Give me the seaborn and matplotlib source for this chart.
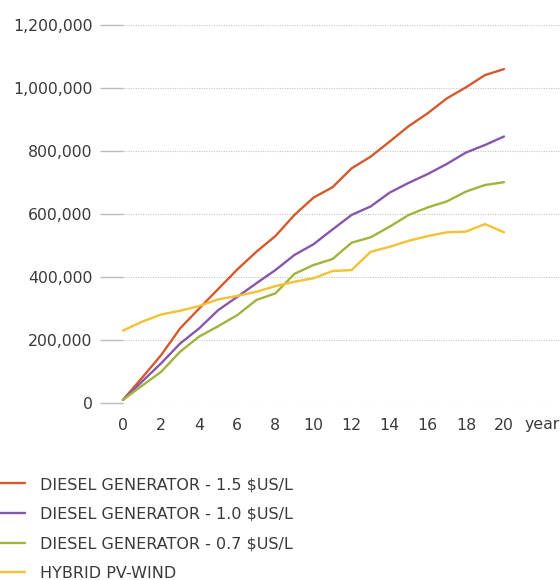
import matplotlib
matplotlib.use("Agg")
import matplotlib.pyplot as plt
import matplotlib.ticker as mticker
import seaborn as sns
import pandas as pd

# Cumulative cost by year for each power option
years = list(range(0, 21))
diesel_15 = [10000, 80000, 152000, 237000, 300000, 362000, 424000, 480000, 530000, 597000,
             652000, 685000, 745000, 782000, 830000, 879000, 920000, 967000, 1002000, 1041000, 1060000]
diesel_10 = [10000, 68000, 126000, 189000, 237000, 295000, 337000, 380000, 422000, 470000,
             504000, 551000, 597000, 624000, 668000, 699000, 727000, 759000, 795000, 819000, 846000]
diesel_07 = [10000, 55000, 99000, 163000, 211000, 244000, 279000, 327000, 348000, 410000,
             438000, 457000, 509000, 526000, 560000, 597000, 621000, 640000, 671000, 692000, 701000]
hybrid = [230000, 258000, 281000, 293000, 308000, 329000, 340000, 353000, 371000, 385000,
          396000, 419000, 422000, 480000, 496000, 515000, 530000, 542000, 544000, 568000, 542000]

series_names = ["DIESEL GENERATOR - 1.5 $US/L", "DIESEL GENERATOR - 1.0 $US/L",
                "DIESEL GENERATOR - 0.7 $US/L", "HYBRID PV-WIND"]
series_values = [diesel_15, diesel_10, diesel_07, hybrid]
series_colors = ["#d35a2c", "#8757ae", "#a3b23c", "#f3c132"]

y_ticks = [0, 200000, 400000, 600000, 800000, 1000000, 1200000]
x_ticks = list(range(0, 21, 2))

df = pd.concat(
    [pd.DataFrame({"year": years, "cost": vals, "series": name})
     for name, vals in zip(series_names, series_values)],
    ignore_index=True,
)

sns.set_theme(style="white")
plt.rcParams["font.family"] = ["DejaVu Sans"]
text_color = "#3a3a3a"

fig = plt.figure(figsize=(5.6, 5.8), dpi=100)
ax = fig.add_axes([123 / 560, 177 / 580, 437 / 560, 378 / 580])

sns.lineplot(data=df, x="year", y="cost", hue="series", hue_order=series_names,
             palette=series_colors, linewidth=1.7, ax=ax, legend=True)
for line in ax.lines:
    line.set_clip_on(False)

ax.set_xlim(0, 22.94)
ax.set_ylim(0, 1200000)
ax.set_xticks(x_ticks)
ax.set_yticks(y_ticks)
ax.yaxis.set_major_formatter(mticker.FuncFormatter(lambda v, p: f"{int(v):,}"))
ax.set_xlabel("")
ax.set_ylabel("")

for s in ax.spines.values():
    s.set_visible(False)

ax.grid(axis="y", color="#c4c4c4", linestyle=(0, (1.0, 1.2)), linewidth=0.8)
ax.grid(axis="x", visible=False)
ax.set_axisbelow(True)

ax.tick_params(axis="y", length=16.5, width=1.0, color="#bbbbbb", pad=5.5,
               labelsize=11.3, labelcolor=text_color, left=True)
ax.tick_params(axis="x", length=0, pad=10.5, labelsize=11.3, labelcolor=text_color)

fig.text(542 / 560, 1 - 424 / 580, "year", ha="center", va="center",
         fontsize=11.3, color=text_color)

handles, labels = ax.get_legend_handles_labels()
ax.legend_.remove()
leg = fig.legend(handles, labels, loc="upper left", bbox_to_anchor=(0.0, 1 - 477 / 580),
                 frameon=False, fontsize=11.5, handlelength=1.56, handletextpad=0.94,
                 labelspacing=0.92, borderpad=0, borderaxespad=0)
for t in leg.get_texts():
    t.set_color(text_color)

fig.savefig("out.png", dpi=100)
